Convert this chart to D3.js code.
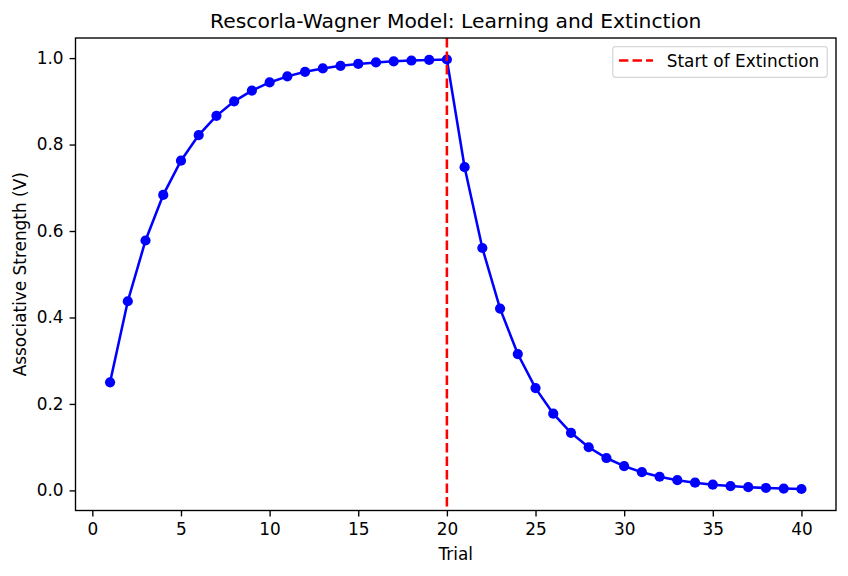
<!DOCTYPE html>
<html><head><meta charset="utf-8">
<script src="https://cdn.jsdelivr.net/npm/d3@7"></script>
<style>body{margin:0;background:#fff}svg{display:block;font-family:"DejaVu Sans",sans-serif}</style>
</head><body>
<svg id="c" width="848" height="576"></svg>
<script>
const trials = d3.range(1, 41);
const strength = [0.2500,0.4375,0.5781,0.6836,0.7627,0.8220,0.8665,0.8999,0.9249,0.9437,0.9578,0.9683,0.9762,0.9822,0.9866,0.9900,0.9925,0.9944,0.9958,0.9968,
0.7476,0.5607,0.4205,0.3154,0.2366,0.1774,0.1331,0.0998,0.0749,0.0561,0.0421,0.0316,0.0237,0.0178,0.0133,0.0100,0.0075,0.0056,0.0042,0.0032];
const extinctionStart = 20;
const xTicks = [0,5,10,15,20,25,30,35,40];
const yTicks = [0.0,0.2,0.4,0.6,0.8,1.0];
const titleText = "Rescorla-Wagner Model: Learning and Extinction";
const xLabel = "Trial", yLabel = "Associative Strength (V)", legendLabel = "Start of Extinction";

const L=75.5,R=836,T=38,B=510.5;
const FS=16.9, LW=2.54;
const svg=d3.select("#c");
const x=d3.scaleLinear().domain([-0.95,41.95]).range([L,R]);
const y=d3.scaleLinear().domain([-0.0465,1.0465]).range([B,T]);

const xa=svg.append("g").attr("transform",`translate(0,${B})`).call(d3.axisBottom(x).tickValues(xTicks).tickFormat(d3.format("d")).tickSize(5.9).tickPadding(7));
const ya=svg.append("g").attr("transform",`translate(${L},0)`).call(d3.axisLeft(y).tickValues(yTicks).tickFormat(d3.format(".1f")).tickSize(5.9).tickPadding(6));
[xa,ya].forEach(a=>{a.select(".domain").remove();a.selectAll("text").attr("font-size",FS).attr("fill","#000").style("font-family","DejaVu Sans");a.selectAll("line").attr("stroke","#000").attr("stroke-width",1.36);});

const data=trials.map((t,i)=>({t,v:strength[i]}));
svg.append("path").datum(data).attr("fill","none").attr("stroke","#0000ff").attr("stroke-width",LW)
 .attr("d",d3.line().x(d=>x(d.t)).y(d=>y(d.v)));
svg.selectAll("circle.m").data(data).join("circle").attr("cx",d=>x(d.t)).attr("cy",d=>y(d.v)).attr("r",5.1).attr("fill","#0000ff");

svg.append("line").attr("x1",x(extinctionStart)).attr("x2",x(extinctionStart)).attr("y1",T).attr("y2",B)
 .attr("stroke","#ff0000").attr("stroke-width",LW).attr("stroke-dasharray","9.4,4.1");

svg.append("rect").attr("x",L).attr("y",T).attr("width",R-L).attr("height",B-T).attr("fill","none").attr("stroke","#000").attr("stroke-width",1.36);

// legend
const lg=svg.append("g");
lg.append("rect").attr("x",612.7).attr("y",46.7).attr("width",214.6).attr("height",30.6).attr("rx",3).attr("fill","#fff").attr("fill-opacity",0.8).attr("stroke","#d6d6d6").attr("stroke-width",1.2);
lg.append("line").attr("x1",619).attr("x2",653).attr("y1",60.5).attr("y2",60.5).attr("stroke","#ff0000").attr("stroke-width",LW).attr("stroke-dasharray","9.4,4.1");
lg.append("text").attr("x",666.7).attr("y",67).attr("font-size",FS).text(legendLabel);

svg.append("text").attr("x",(L+R)/2).attr("y",28.3).attr("text-anchor","middle").attr("font-size",20.3).text(titleText);
svg.append("text").attr("x",(L+R)/2).attr("y",560).attr("text-anchor","middle").attr("font-size",FS).text(xLabel);
svg.append("text").attr("transform",`translate(25.5,${(T+B)/2}) rotate(-90)`).attr("text-anchor","middle").attr("font-size",FS).text(yLabel);
</script></body></html>
